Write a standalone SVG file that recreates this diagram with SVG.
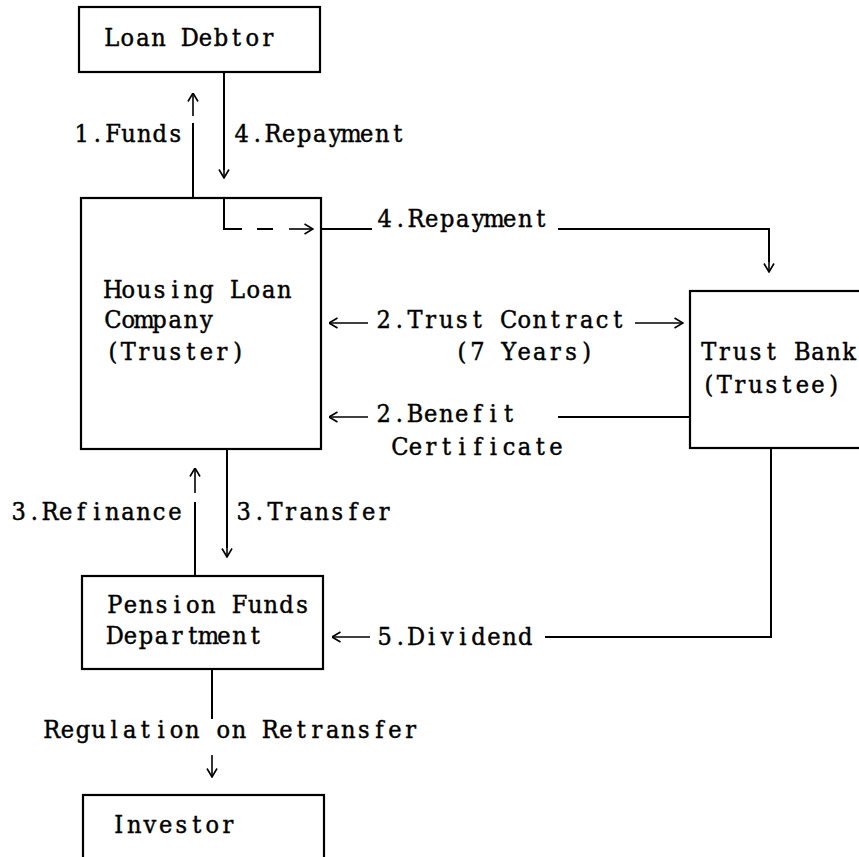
<svg xmlns="http://www.w3.org/2000/svg" width="859" height="857" viewBox="0 0 859 857">
  <defs>
    <marker id="arrow" viewBox="0 0 10 12" refX="9.5" refY="6" markerWidth="10" markerHeight="12" markerUnits="userSpaceOnUse" orient="auto">
      <path d="M1,1 L9.5,6 L1,11" fill="none" stroke="#000" stroke-width="1.6"/>
    </marker>
    <style>
      .box { fill: #fff; stroke: #000; stroke-width: 2.2; }
      /* monospaced cells of 15.6px: glyphs squeezed to 0.94 and centred every 16.596 local units */
      .lbl { font-family: "DejaVu Serif", "Liberation Serif", serif; font-size: 24px; fill: #000; stroke: #000; stroke-width: 0.45; text-anchor: middle; }
      .wire { fill: none; stroke: #000; stroke-width: 2; }
      .tip { fill: none; stroke: #000; stroke-width: 1.6; marker-end: url(#arrow); }
    </style>
  </defs>
  <rect width="859" height="857" fill="#fff"/>

  <g id="loan-debtor">
    <rect class="box" x="79" y="7" width="241" height="65"/>
    <text class="lbl" transform="translate(104 46) scale(0.94 1)" y="0" x="8.30 24.89 41.49 58.09 74.68 91.28 107.87 124.47 141.07 157.66 174.26 190.85 207.45 224.05 240.64 257.24 273.83 290.43 307.03 323.62 340.22 356.81 373.41 390.01">Loan Debtor</text>
  </g>

  <g id="housing-loan-company">
    <rect class="box" x="81" y="198" width="240" height="251"/>
    <text class="lbl" transform="translate(105 298) scale(0.94 1)" y="0" x="8.30 24.89 41.49 58.09 74.68 91.28 107.87 124.47 141.07 157.66 174.26 190.85 207.45 224.05 240.64 257.24 273.83 290.43 307.03 323.62 340.22 356.81 373.41 390.01">Housing Loan</text>
    <text class="lbl" transform="translate(105 328) scale(0.94 1)" y="0" x="8.30 24.89 41.49 58.09 74.68 91.28 107.87 124.47 141.07 157.66 174.26 190.85 207.45 224.05 240.64 257.24 273.83 290.43 307.03 323.62 340.22 356.81 373.41 390.01">Company</text>
    <text class="lbl" transform="translate(105 360) scale(0.94 1)" y="0" x="8.30 24.89 41.49 58.09 74.68 91.28 107.87 124.47 141.07 157.66 174.26 190.85 207.45 224.05 240.64 257.24 273.83 290.43 307.03 323.62 340.22 356.81 373.41 390.01">(Truster)</text>
  </g>

  <g id="trust-bank">
    <rect class="box" x="690" y="291" width="200" height="157"/>
    <text class="lbl" transform="translate(701 360) scale(0.94 1)" y="0" x="8.30 24.89 41.49 58.09 74.68 91.28 107.87 124.47 141.07 157.66 174.26 190.85 207.45 224.05 240.64 257.24 273.83 290.43 307.03 323.62 340.22 356.81 373.41 390.01">Trust Bank</text>
    <text class="lbl" transform="translate(701 393) scale(0.94 1)" y="0" x="8.30 24.89 41.49 58.09 74.68 91.28 107.87 124.47 141.07 157.66 174.26 190.85 207.45 224.05 240.64 257.24 273.83 290.43 307.03 323.62 340.22 356.81 373.41 390.01">(Trustee)</text>
  </g>

  <g id="pension-funds-department">
    <rect class="box" x="82" y="576" width="241" height="93"/>
    <text class="lbl" transform="translate(107 613) scale(0.94 1)" y="0" x="8.30 24.89 41.49 58.09 74.68 91.28 107.87 124.47 141.07 157.66 174.26 190.85 207.45 224.05 240.64 257.24 273.83 290.43 307.03 323.62 340.22 356.81 373.41 390.01">Pension Funds</text>
    <text class="lbl" transform="translate(107 644) scale(0.94 1)" y="0" x="8.30 24.89 41.49 58.09 74.68 91.28 107.87 124.47 141.07 157.66 174.26 190.85 207.45 224.05 240.64 257.24 273.83 290.43 307.03 323.62 340.22 356.81 373.41 390.01">Department</text>
  </g>

  <g id="investor">
    <rect class="box" x="83" y="795" width="241" height="80"/>
    <text class="lbl" transform="translate(111 833) scale(0.94 1)" y="0" x="8.30 24.89 41.49 58.09 74.68 91.28 107.87 124.47 141.07 157.66 174.26 190.85 207.45 224.05 240.64 257.24 273.83 290.43 307.03 323.62 340.22 356.81 373.41 390.01">Investor</text>
  </g>

  <!-- connectors, drawn over the boxes -->
  <g id="connectors">
    <!-- 1. Funds: Housing Loan Company to Loan Debtor -->
    <line class="wire" x1="193" y1="199" x2="193" y2="123"/>
    <line class="tip" x1="193" y1="116" x2="193" y2="93"/>
    <!-- 4. Repayment: Loan Debtor to Housing Loan Company -->
    <line class="wire" x1="224" y1="72" x2="224" y2="170"/>
    <line class="tip" x1="224" y1="165" x2="224" y2="178"/>
    <!-- 4. Repayment passed on to the Trust Bank -->
    <path class="wire" d="M224,199 V229 H242"/>
    <line class="wire" x1="257" y1="229" x2="273" y2="229"/>
    <line class="tip" x1="289" y1="229" x2="313" y2="229"/>
    <line class="wire" x1="321" y1="229" x2="372" y2="229"/>
    <path class="wire" d="M558,229 H769 V262"/>
    <line class="tip" x1="769" y1="258" x2="769" y2="272"/>
    <!-- 2. Trust Contract, both directions -->
    <line class="tip" x1="368" y1="323" x2="329" y2="323"/>
    <line class="tip" x1="635" y1="323" x2="683" y2="323"/>
    <!-- 2. Benefit Certificate -->
    <line class="tip" x1="368" y1="417" x2="329" y2="417"/>
    <line class="wire" x1="558" y1="417" x2="690" y2="417"/>
    <!-- 3. Refinance -->
    <line class="wire" x1="195" y1="576" x2="195" y2="502"/>
    <line class="tip" x1="195" y1="493" x2="195" y2="468"/>
    <!-- 3. Transfer -->
    <line class="wire" x1="227" y1="449" x2="227" y2="548"/>
    <line class="tip" x1="227" y1="544" x2="227" y2="557"/>
    <!-- 5. Dividend -->
    <path class="wire" d="M545,637 H771 V448"/>
    <line class="tip" x1="370" y1="637" x2="332" y2="637"/>
    <!-- Regulation on Retransfer -->
    <line class="wire" x1="212" y1="669" x2="212" y2="719"/>
    <line class="tip" x1="212" y1="755" x2="212" y2="777"/>
  </g>

  <!-- connector labels -->
  <g id="labels">
    <text class="lbl" transform="translate(74 142) scale(0.94 1)" y="0" x="8.30 24.89 41.49 58.09 74.68 91.28 107.87 124.47 141.07 157.66 174.26 190.85 207.45 224.05 240.64 257.24 273.83 290.43 307.03 323.62 340.22 356.81 373.41 390.01">1.Funds</text>
    <text class="lbl" transform="translate(234 142) scale(0.94 1)" y="0" x="8.30 24.89 41.49 58.09 74.68 91.28 107.87 124.47 141.07 157.66 174.26 190.85 207.45 224.05 240.64 257.24 273.83 290.43 307.03 323.62 340.22 356.81 373.41 390.01">4.Repayment</text>
    <text class="lbl" transform="translate(377 227) scale(0.94 1)" y="0" x="8.30 24.89 41.49 58.09 74.68 91.28 107.87 124.47 141.07 157.66 174.26 190.85 207.45 224.05 240.64 257.24 273.83 290.43 307.03 323.62 340.22 356.81 373.41 390.01">4.Repayment</text>
    <text class="lbl" transform="translate(376 328) scale(0.94 1)" y="0" x="8.30 24.89 41.49 58.09 74.68 91.28 107.87 124.47 141.07 157.66 174.26 190.85 207.45 224.05 240.64 257.24 273.83 290.43 307.03 323.62 340.22 356.81 373.41 390.01">2.Trust Contract</text>
    <text class="lbl" transform="translate(454 360) scale(0.94 1)" y="0" x="8.30 24.89 41.49 58.09 74.68 91.28 107.87 124.47 141.07 157.66 174.26 190.85 207.45 224.05 240.64 257.24 273.83 290.43 307.03 323.62 340.22 356.81 373.41 390.01">(7 Years)</text>
    <text class="lbl" transform="translate(376 422) scale(0.94 1)" y="0" x="8.30 24.89 41.49 58.09 74.68 91.28 107.87 124.47 141.07 157.66 174.26 190.85 207.45 224.05 240.64 257.24 273.83 290.43 307.03 323.62 340.22 356.81 373.41 390.01">2.Benefit</text>
    <text class="lbl" transform="translate(392 455) scale(0.94 1)" y="0" x="8.30 24.89 41.49 58.09 74.68 91.28 107.87 124.47 141.07 157.66 174.26 190.85 207.45 224.05 240.64 257.24 273.83 290.43 307.03 323.62 340.22 356.81 373.41 390.01">Certificate</text>
    <text class="lbl" transform="translate(11 520) scale(0.94 1)" y="0" x="8.30 24.89 41.49 58.09 74.68 91.28 107.87 124.47 141.07 157.66 174.26 190.85 207.45 224.05 240.64 257.24 273.83 290.43 307.03 323.62 340.22 356.81 373.41 390.01">3.Refinance</text>
    <text class="lbl" transform="translate(236 520) scale(0.94 1)" y="0" x="8.30 24.89 41.49 58.09 74.68 91.28 107.87 124.47 141.07 157.66 174.26 190.85 207.45 224.05 240.64 257.24 273.83 290.43 307.03 323.62 340.22 356.81 373.41 390.01">3.Transfer</text>
    <text class="lbl" transform="translate(377 645) scale(0.94 1)" y="0" x="8.30 24.89 41.49 58.09 74.68 91.28 107.87 124.47 141.07 157.66 174.26 190.85 207.45 224.05 240.64 257.24 273.83 290.43 307.03 323.62 340.22 356.81 373.41 390.01">5.Dividend</text>
    <text class="lbl" transform="translate(44 738) scale(0.94 1)" y="0" x="8.30 24.89 41.49 58.09 74.68 91.28 107.87 124.47 141.07 157.66 174.26 190.85 207.45 224.05 240.64 257.24 273.83 290.43 307.03 323.62 340.22 356.81 373.41 390.01">Regulation on Retransfer</text>
  </g>
</svg>
